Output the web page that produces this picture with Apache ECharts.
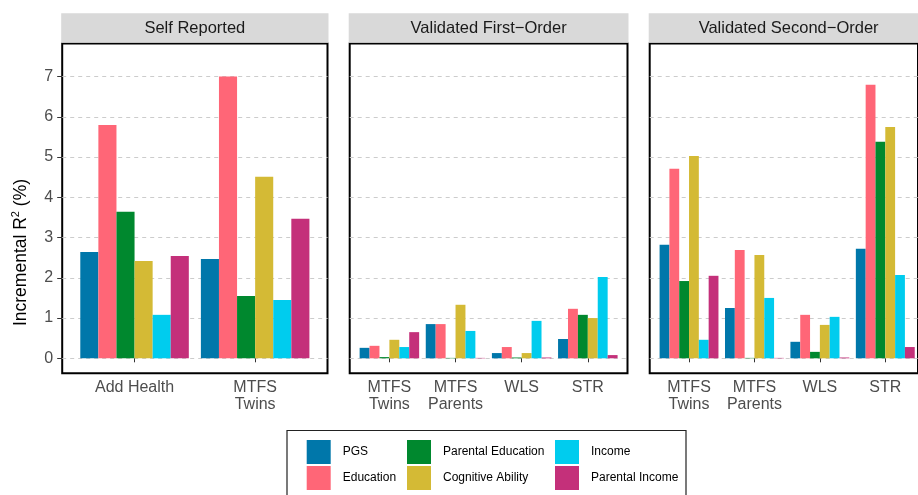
<!DOCTYPE html>
<html><head><meta charset="utf-8">
<script src="https://cdn.jsdelivr.net/npm/echarts@6/dist/echarts.min.js"></script>
<style>html,body{margin:0;padding:0;background:#fff}#c{width:918px;height:495px}</style>
</head><body><div id="c"></div>
<script>
// ---- data ----
const seriesNames = ['PGS', 'Education', 'Parental Education', 'Cognitive Ability', 'Income', 'Parental Income'];
const seriesColors = ['#0077AA', '#FF6677', '#00882E', '#D4BA35', '#00CCEE', '#C4307A'];
const panelTitles = ['Self Reported', 'Validated First\u2212Order', 'Validated Second\u2212Order'];
const selfCats = ['Add Health', 'MTFS\nTwins'];
const validCats = ['MTFS\nTwins', 'MTFS\nParents', 'WLS', 'STR'];
const yTicks = [0, 1, 2, 3, 4, 5, 6, 7];

const pgsSelf = [2.64, 2.47];
const eduSelf = [5.80, 7.00];
const parEduSelf = [3.64, 1.55];
const cogSelf = [2.42, 4.51];
const incSelf = [1.08, 1.45];
const parIncSelf = [2.54, 3.47];

const pgsFirst = [0.26, 0.85, 0.13, 0.48];
const eduFirst = [0.31, 0.85, 0.28, 1.23];
const parEduFirst = [0.03, 0.01, 0.02, 1.08];
const cogFirst = [0.46, 1.33, 0.13, 1.00];
const incFirst = [0.28, 0.68, 0.93, 2.02];
const parIncFirst = [0.65, 0.01, 0.02, 0.08];

const pgsSecond = [2.82, 1.25, 0.41, 2.72];
const eduSecond = [4.71, 2.69, 1.08, 6.80];
const parEduSecond = [1.92, 0.01, 0.16, 5.38];
const cogSecond = [5.03, 2.57, 0.83, 5.75];
const incSecond = [0.46, 1.50, 1.03, 2.07];
const parIncSecond = [2.05, 0.01, 0.02, 0.28];

// ---- layout ----
const FONT = '"Liberation Sans", Arial, Helvetica, sans-serif';
const panels = [
  { cats: selfCats, vals: [pgsSelf, eduSelf, parEduSelf, cogSelf, incSelf, parIncSelf], left: 62.2, width: 265.3 },
  { cats: validCats, vals: [pgsFirst, eduFirst, parEduFirst, cogFirst, incFirst, parIncFirst], left: 349.7, width: 277.8 },
  { cats: validCats, vals: [pgsSecond, eduSecond, parEduSecond, cogSecond, incSecond, parIncSecond], left: 649.7, width: 277.8 }
];
const FRAME_TOP = 43.5, FRAME_H = 329.7;
const PLOT_TOP = 76.6, PLOT_H = 281.7;

const grids = [], xAxes = [], yAxes = [], series = [], graphics = [];
panels.forEach((p, pi) => {
  const n = p.cats.length;
  const unit = p.width / (n + 0.2);
  const dl = p.left + 0.1 * unit, dw = unit * n;
  grids.push({ left: p.left, top: FRAME_TOP, width: p.width, height: FRAME_H, show: true, borderColor: '#000', borderWidth: 2, backgroundColor: 'rgba(0,0,0,0)' });
  grids.push({ left: p.left, top: PLOT_TOP, width: p.width, height: PLOT_H });
  grids.push({ left: dl, top: PLOT_TOP, width: dw, height: PLOT_H });
  const g = pi * 3;
  xAxes.push({ type: 'value', gridIndex: g, show: false });
  xAxes.push({ type: 'value', gridIndex: g + 1, show: false });
  xAxes.push({
    type: 'category', gridIndex: g + 2, data: p.cats, offset: 15.6,
    axisLine: { show: false },
    axisTick: { show: true, alignWithLabel: true, length: 4, lineStyle: { color: '#333', width: 1 } },
    axisLabel: { interval: 0, color: '#4D4D4D', fontSize: 16, lineHeight: 17.7, margin: 4.5, fontFamily: FONT },
    splitLine: { show: false }
  });
  yAxes.push({ type: 'value', gridIndex: g, show: false });
  yAxes.push({
    type: 'value', gridIndex: g + 1, min: yTicks[0], max: yTicks[yTicks.length - 1], interval: 1,
    axisLine: { show: false },
    axisTick: { show: pi === 0, length: 5, lineStyle: { color: '#333', width: 1 } },
    axisLabel: { show: pi === 0, margin: 9, color: '#4D4D4D', fontSize: 16, fontFamily: FONT },
    splitLine: { show: true, lineStyle: { color: '#CCCCCC', type: [4, 4], width: 1 } }
  });
  yAxes.push({ type: 'value', gridIndex: g + 2, min: yTicks[0], max: yTicks[yTicks.length - 1], show: false });
  seriesNames.forEach((name, si) => {
    series.push({
      type: 'bar', name: name, xAxisIndex: g + 2, yAxisIndex: g + 2,
      data: p.vals[si], barGap: '0%', barCategoryGap: '10%',
      itemStyle: { color: seriesColors[si] },
      emphasis: { disabled: true }, animation: false
    });
  });
  graphics.push({ type: 'rect', shape: { x: p.left - 1, y: 13.3, width: p.width + 2, height: 29.4 }, style: { fill: '#D9D9D9' }, z: 5 });
  graphics.push({ type: 'text', x: p.left + p.width / 2, y: 28.4, z: 6,
    style: { text: panelTitles[pi], fill: '#1A1A1A', font: '16.5px ' + FONT, textAlign: 'center', textVerticalAlign: 'middle' } });
});

graphics.push({ type: 'text', x: 21, y: 252.5, rotation: Math.PI / 2, z: 6,
  style: {
    text: '{a|Incremental R}{s|2}{a| (%)}', textAlign: 'center', textVerticalAlign: 'middle',
    rich: { a: { fontSize: 17.5, fontFamily: FONT, fill: '#000' }, s: { fontSize: 11, fontFamily: FONT, fill: '#000', padding: [0, 0, 10, 0] } }
  } });
graphics.push({ type: 'rect', shape: { x: 287, y: 430.5, width: 399, height: 80 }, style: { fill: 'none', stroke: '#222', lineWidth: 1.2 }, z: 6 });

const legendCols = [[seriesNames[0], seriesNames[1]], [seriesNames[2], seriesNames[3]], [seriesNames[4], seriesNames[5]]];
const legendLefts = [306.7, 407, 555];
const legends = legendCols.map((d, i) => ({
  data: d, orient: 'vertical', left: legendLefts[i], top: 440, padding: 0,
  itemWidth: 24, itemHeight: 24, itemGap: 2, icon: 'rect', selectedMode: false,
  textStyle: { fontSize: 12, color: '#000', fontFamily: FONT, padding: [0, 0, 0, 7] }
}));

const chart = echarts.init(document.getElementById('c'), null, { renderer: 'canvas' });
chart.setOption({
  animation: false,
  backgroundColor: '#fff',
  grid: grids, xAxis: xAxes, yAxis: yAxes, series: series,
  legend: legends, graphic: graphics
});
</script></body></html>
